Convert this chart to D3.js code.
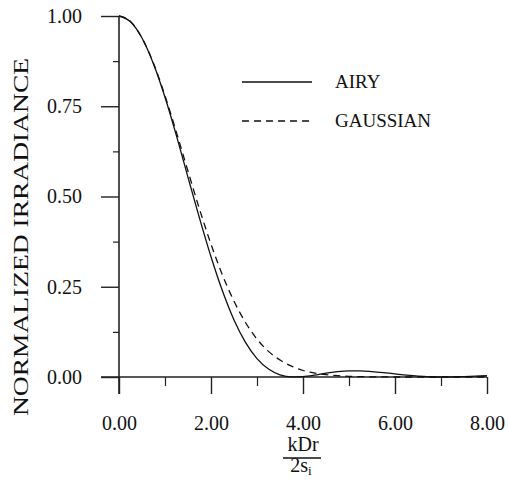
<!DOCTYPE html>
<html>
<head>
<meta charset="utf-8">
<script src="https://cdn.jsdelivr.net/npm/d3@7"></script>
<style>
  body { margin: 0; background: #fff; }
  svg text { font-family: "Liberation Serif", "DejaVu Serif", serif; fill: #111; }
</style>
</head>
<body>
<svg id="chart" width="508" height="479"></svg>
<script>
// x step 0.25
const xs = [0,0.25,0.5,0.75,1,1.25,1.5,1.75,2,2.25,2.5,2.75,3,3.25,3.5,3.75,4,
            4.25,4.5,4.75,5,5.25,5.5,5.75,6,6.25,6.5,6.75,7,7.25,7.5,7.75,8];
const airy = [1,0.984,0.939,0.867,0.775,0.668,0.553,0.440,0.333,0.238,0.158,0.096,0.051,0.022,0.006,0.0003,0.001,
              0.005,0.011,0.015,0.017,0.017,0.015,0.012,0.0085,0.005,0.0022,0.0006,0,0.0004,0.0013,0.0024,0.0034];
const gaussian = [1,0.985,0.939,0.869,0.779,0.677,0.570,0.465,0.368,0.282,0.210,0.151,0.105,0.071,0.047,0.030,0.018,
                  0.011,0.0063,0.0036,0.0019,0.001,0.0005,0.0002,0,0,0,0,0,0,0,0,0];
const xTicks = [0,2,4,6,8];
const xMinor = [1,3,5,7];
const yTicks = [0,0.25,0.5,0.75,1];
const yMinor = [0.125,0.375,0.625,0.875];
const legendItems = [{name:'AIRY', dash:null}, {name:'GAUSSIAN', dash:'7,5'}];

const svg = d3.select('#chart');
const x = d3.scaleLinear().domain([0,8]).range([119,487]);
const y = d3.scaleLinear().domain([0,1]).range([377,16]);
const axisColor = '#222';

// axis lines
svg.append('line').attr('x1',x(0)).attr('x2',x(0)).attr('y1',y(1)).attr('y2',y(0)+17)
    .attr('stroke',axisColor).attr('stroke-width',1.6);
svg.append('line').attr('x1',x(0)-18).attr('x2',x(8)).attr('y1',y(0)).attr('y2',y(0))
    .attr('stroke',axisColor).attr('stroke-width',1.4);

// y ticks
const yAxis = svg.append('g').attr('transform','translate('+x(0)+',0)')
    .call(d3.axisLeft(y).tickValues(yTicks).tickSize(18).tickPadding(19).tickFormat(d3.format('.2f')));
yAxis.select('.domain').remove();
yAxis.selectAll('line').attr('stroke',axisColor).attr('stroke-width',1.4);
yAxis.selectAll('text').style('font-size','20px').attr('fill','#111');

const yAxisMinor = svg.append('g').attr('transform','translate('+x(0)+',0)')
    .call(d3.axisLeft(y).tickValues(yMinor).tickSize(6).tickFormat(''));
yAxisMinor.select('.domain').remove();
yAxisMinor.selectAll('line').attr('stroke',axisColor).attr('stroke-width',1.2);

// x ticks
const xAxis = svg.append('g').attr('transform','translate(0,'+y(0)+')')
    .call(d3.axisBottom(x).tickValues(xTicks).tickSize(17).tickFormat(d3.format('.2f')));
xAxis.select('.domain').remove();
xAxis.selectAll('line').attr('stroke',axisColor).attr('stroke-width',1.4);
xAxis.selectAll('text').style('font-size','20px').attr('fill','#111')
    .attr('y',53).attr('dy',null);

const xAxisMinor = svg.append('g').attr('transform','translate(0,'+y(0)+')')
    .call(d3.axisBottom(x).tickValues(xMinor).tickSize(9).tickFormat(''));
xAxisMinor.select('.domain').remove();
xAxisMinor.selectAll('line').attr('stroke',axisColor).attr('stroke-width',1.2);

// curves
const line = d3.line().x((d,i)=>x(xs[i])).y(d=>y(d)).curve(d3.curveMonotoneX);
svg.append('path').datum(airy).attr('d',line)
    .attr('fill','none').attr('stroke','#111').attr('stroke-width',1.3);
svg.append('path').datum(gaussian).attr('d',line)
    .attr('fill','none').attr('stroke','#111').attr('stroke-width',1.3)
    .attr('stroke-dasharray','7,5');

// legend
const legend = svg.append('g');
legendItems.forEach((d,i)=>{
    let ly = 82 + i*39;
    legend.append('line').attr('x1',242).attr('x2',312).attr('y1',ly).attr('y2',ly)
        .attr('stroke','#111').attr('stroke-width',1.3)
        .attr('stroke-dasharray',d.dash);
    legend.append('text').attr('x',335).attr('y',ly+6).style('font-size','19px').text(d.name);
});

// y title
svg.append('text')
    .attr('transform','translate(28,237) rotate(-90)')
    .attr('text-anchor','middle')
    .attr('textLength',358).attr('lengthAdjust','spacingAndGlyphs')
    .style('font-size','22px')
    .text('NORMALIZED IRRADIANCE');

// x title as a fraction kDr / 2s_i
const cx = x(4);
svg.append('text').attr('x',cx).attr('y',451).attr('text-anchor','middle')
    .style('font-size','20px').text('kDr');
svg.append('line').attr('x1',cx-20).attr('x2',cx+18).attr('y1',458).attr('y2',458)
    .attr('stroke','#111').attr('stroke-width',1.3);
const den = svg.append('text').attr('x',cx-2).attr('y',472).attr('text-anchor','middle')
    .style('font-size','20px');
den.append('tspan').text('2s');
den.append('tspan').attr('dy',3).style('font-size','13px').text('i');
</script>
</body>
</html>
